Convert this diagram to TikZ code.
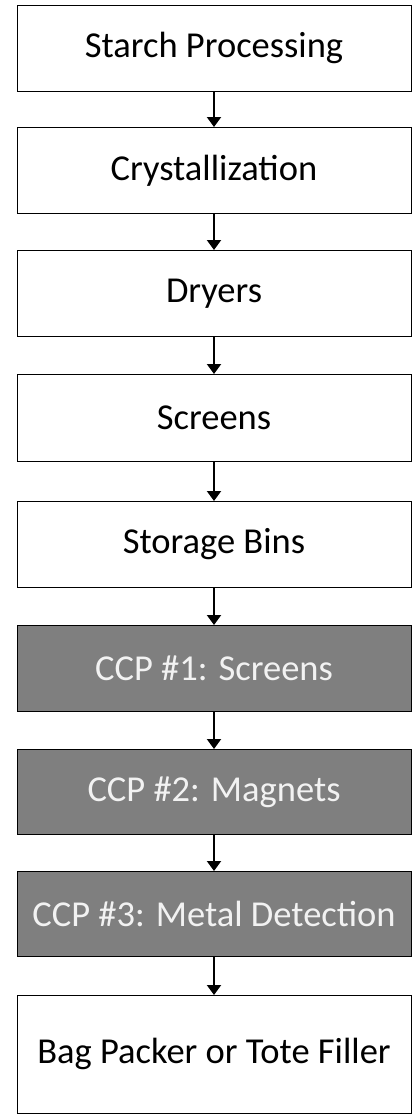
\documentclass[tikz,border=0pt]{standalone}
\usepackage{fontspec}
\setmainfont{Carlito}
\usetikzlibrary{arrows.meta}
\definecolor{ccpgray}{RGB}{127,127,127}
\definecolor{ccptext}{RGB}{242,242,242}
\tikzset{
  box/.style={draw=black, line width=0.8pt, fill=white, anchor=north,
    minimum width=394pt, inner sep=0pt, font=\fontsize{36.5}{42}\selectfont},
  ccpbox/.style={box, fill=ccpgray, text=ccptext},
  flow/.style={line width=2pt, -{Triangle[width=14pt,length=10pt]}}
}
\begin{document}
\begin{tikzpicture}[x=1pt,y=1pt]
\useasboundingbox (0,0) rectangle (414,-1116);
\node[box, minimum height=86pt] (a) at (214,-5) {Starch Processing};
\node[box, minimum height=86pt] (b) at (214,-127) {Crystallization};
\node[box, minimum height=86pt] (c) at (214,-250) {Dryers};
\node[box, minimum height=87pt] (d) at (214,-374) {Screens};
\node[box, minimum height=86pt] (e) at (214,-501) {Storage Bins};
\node[ccpbox, minimum height=86pt] (f) at (214,-625) {CCP \#1: Screens};
\node[ccpbox, minimum height=85pt] (g) at (214,-749) {CCP \#2: Magnets};
\node[ccpbox, minimum height=85pt] (h) at (214,-871) {CCP \#3: Metal Detection};
\node[box, minimum height=118pt] (i) at (214,-995) {Bag Packer or Tote Filler};
\foreach \u/\v in {a/b,b/c,c/d,d/e,e/f,f/g,g/h,h/i}
  \draw[flow] (\u.south) -- (\v.north);
\end{tikzpicture}
\end{document}
